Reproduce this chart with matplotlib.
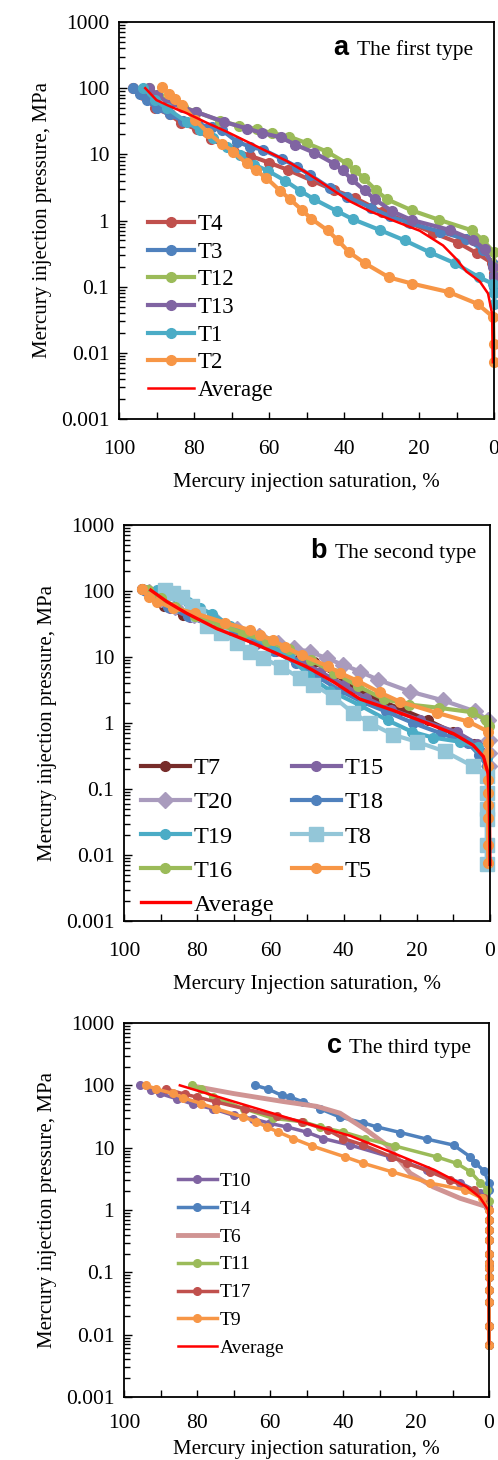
import numpy as np
import matplotlib
matplotlib.use("Agg")
import matplotlib.pyplot as plt
from matplotlib.ticker import FixedLocator, FuncFormatter, LogLocator, NullFormatter

plt.rcParams['font.family'] = ['Liberation Serif', 'DejaVu Serif']

# ---------------- data: panel a (first type) ----------------
a_names = ["T4", "T3", "T12", "T13", "T1", "T2"]
a_sat = [
    [96.4, 93.5, 90.4, 86.5, 83.5, 79.3, 75.5, 69.5, 65.0, 60.0, 54.9, 48.5, 42.8, 37.1, 30.0, 23.0, 16.2, 9.5, 4.6, 0.6, 0.0],
    [96.4, 94.5, 92.5, 90.0, 86.5, 82.9, 79.0, 75.3, 72.6, 68.6, 65.0, 61.5, 56.5, 52.6, 49.1, 43.8, 39.3, 32.7, 27.8, 22.5, 14.5, 7.4, 2.9, 0.3, 0.0, 0.0],
    [92.0, 89.5, 86.5, 83.0, 79.5, 73.0, 68.0, 63.3, 59.3, 54.6, 50.0, 44.6, 39.3, 37.1, 34.8, 31.4, 28.6, 21.9, 14.8, 5.9, 2.9, 0.0, 0.0],
    [92.0, 89.9, 86.7, 83.1, 79.6, 72.0, 65.8, 61.8, 56.8, 53.0, 48.0, 42.6, 40.3, 38.0, 34.5, 31.8, 27.1, 22.0, 11.8, 5.6, 2.5, 0.2, 0.0],
    [93.5, 90.4, 87.3, 82.0, 78.4, 74.9, 71.3, 67.8, 64.0, 60.2, 55.7, 51.8, 48.0, 42.0, 37.7, 30.5, 23.8, 17.1, 10.5, 4.1, 0.3, 0.0, 0.0],
    [88.5, 86.7, 85.0, 83.3, 79.7, 76.2, 72.6, 69.5, 66.0, 63.5, 60.7, 57.1, 54.4, 51.1, 48.7, 44.4, 41.6, 38.6, 34.5, 28.0, 21.8, 12.1, 4.4, 0.3, 0.1, 0.1],
]
a_pres = [
    [100, 79, 50, 40, 30, 24, 17, 11.7, 9.5, 7.5, 5.8, 4.0, 2.9, 2.2, 1.36, 0.95, 0.65, 0.46, 0.32, 0.23, 0.16],
    [100, 82, 66, 50, 40, 32, 28, 26, 23.4, 15.6, 13, 11.7, 8.5, 6.5, 4.9, 3.1, 2.3, 1.55, 1.15, 0.92, 0.68, 0.52, 0.36, 0.22, 0.143, 0.1],
    [100, 80, 60, 52, 44, 32, 27, 24, 21, 18.5, 14.8, 11, 7.3, 5.8, 4.4, 2.85, 2.1, 1.42, 1.03, 0.71, 0.5, 0.33, 0.2],
    [100, 79, 59, 52, 44, 31, 24.5, 21, 18, 14, 10.6, 7.2, 5.7, 4.2, 2.85, 2.1, 1.37, 1.02, 0.72, 0.51, 0.37, 0.2, 0.14],
    [100, 66, 50, 31, 23, 17.5, 13, 9.8, 7.0, 5.6, 4.0, 2.84, 2.1, 1.4, 1.05, 0.72, 0.50, 0.33, 0.227, 0.14, 0.11, 0.08, 0.055],
    [103, 82, 68, 56, 33, 21, 14.4, 11, 7.3, 5.7, 4.4, 2.84, 2.1, 1.42, 1.06, 0.71, 0.50, 0.33, 0.227, 0.138, 0.111, 0.083, 0.055, 0.035, 0.0138, 0.0072],
]
a_avg_sat = [93.0, 90.0, 87.0, 84.6, 82.0, 76.6, 71.3, 66.0, 60.7, 55.4, 50.0, 43.8, 38.5, 33.1, 26.9, 19.8, 13.6, 10.0, 7.4, 3.8, 1.6, 0.5, 0.3]
a_avg_pres = [100, 66, 55, 48, 42, 30, 22, 15.7, 11.2, 8, 5.3, 3.1, 1.96, 1.38, 1.0, 0.70, 0.42, 0.26, 0.17, 0.12, 0.079, 0.039, 0.0072]
a_colors = ["#C0504D", "#4F81BD", "#9BBB59", "#8064A2", "#4BACC6", "#F79646"]

# ---------------- data: panel b (second type) ----------------
b_names = ["T7", "T15", "T20", "T18", "T19", "T8", "T16", "T5"]
b_sat = [
    [95.0, 92.5, 89.0, 84.0, 78.0, 71.0, 64.0, 58.0, 53.5, 48.0, 42.5, 37.0, 31.0, 24.0, 17.0, 10.0, 4.5, 1.0, 0.3],
    [94.0, 91.0, 87.5, 82.0, 76.0, 70.0, 64.0, 58.5, 52.0, 46.5, 40.0, 34.0, 27.0, 19.0, 9.1, 3.5, 0.5, 0.2],
    [93.3, 90.0, 86.0, 81.0, 75.0, 69.0, 63.0, 58.0, 53.5, 49.2, 44.5, 40.1, 35.5, 30.5, 21.9, 12.8, 4.1, 0.5, 0.2, 0.2, 0.2],
    [94.5, 91.5, 88.0, 82.5, 76.5, 70.5, 64.5, 59.0, 53.0, 47.0, 41.0, 35.0, 28.5, 21.0, 13.5, 6.0, 3.0, 0.8, 0.3],
    [91.0, 88.0, 85.6, 82.4, 79.2, 76.0, 71.0, 66.0, 60.5, 55.0, 49.5, 43.7, 35.5, 28.0, 21.4, 15.5, 8.2, 3.2, 0.8, 0.5],
    [88.8, 86.5, 84.2, 81.5, 79.7, 77.4, 73.5, 69.0, 65.5, 62.0, 57.0, 52.0, 48.3, 42.8, 37.3, 32.8, 26.4, 20.0, 12.3, 4.6, 0.9, 0.9, 0.9, 0.9, 0.9, 0.9],
    [93.5, 90.0, 86.0, 80.5, 74.0, 67.5, 61.0, 55.0, 49.0, 42.5, 36.0, 29.0, 22.0, 14.0, 5.0, 1.0, 0.3],
    [95.2, 93.3, 91.0, 86.5, 80.6, 72.4, 65.6, 62.8, 59.4, 56.0, 51.5, 44.2, 40.9, 36.4, 30.1, 24.6, 14.6, 5.9, 0.5, 0.5, 0.5, 0.5, 0.5, 0.5, 0.5, 0.5, 0.5, 0.5],
]
b_pres = [
    [107, 85, 60, 43, 34, 25, 19, 14, 12, 8.5, 5.5, 3.4, 2.3, 1.6, 1.1, 0.72, 0.48, 0.3, 0.2],
    [100, 78, 55, 40, 30, 22, 16, 12.5, 8.8, 6.0, 3.8, 2.4, 1.6, 1.1, 0.73, 0.48, 0.34, 0.21],
    [98, 75, 58, 44, 35, 27, 21, 16.5, 13.5, 12, 9.5, 7.6, 6.0, 4.5, 3.0, 2.2, 1.5, 1.11, 0.55, 0.35, 0.22],
    [102, 80, 58, 42, 31, 23, 17, 12.5, 8.0, 5.0, 3.1, 2.1, 1.5, 1.0, 0.7, 0.5, 0.33, 0.22, 0.15],
    [103, 90, 80, 68, 55, 45, 30, 22, 15, 10.5, 5.2, 3.1, 1.85, 1.1, 0.74, 0.6, 0.52, 0.44, 0.29, 0.2],
    [105, 92, 81, 60, 45, 29, 23, 16.5, 12, 9.5, 7.1, 4.8, 3.8, 2.5, 1.4, 1.0, 0.66, 0.52, 0.37, 0.22, 0.155, 0.086, 0.05, 0.035, 0.014, 0.0072],
    [103, 78, 58, 42, 31, 23, 17.5, 13, 9.0, 5.8, 3.6, 2.3, 1.9, 1.7, 1.46, 1.1, 0.9],
    [107, 82, 69, 55, 46, 33, 25.6, 21.5, 18, 14.2, 10.7, 7.2, 5.7, 4.4, 2.9, 2.1, 1.43, 1.05, 0.74, 0.49, 0.35, 0.22, 0.138, 0.086, 0.057, 0.036, 0.014, 0.0075],
]
b_avg_sat = [92.7, 88.3, 82.9, 74.7, 65.6, 58.3, 50.1, 42.8, 35.5, 26.4, 17.3, 10.0, 4.6, 1.8, 0.5, 0.2, 0.0]
b_avg_pres = [103, 69, 46, 27, 17, 11.3, 7.1, 4.2, 2.3, 1.55, 1.0, 0.69, 0.46, 0.31, 0.17, 0.068, 0.0072]
b_colors = ["#772C2A", "#8064A2", "#A99BBD", "#4F81BD", "#4BACC6", "#93C6D8", "#9BBB59", "#F79646"]
b_markers = ["o", "o", "D", "o", "o", "s", "o", "o"]

# ---------------- data: panel c (third type) ----------------
c_names = ["T10", "T14", "T6", "T11", "T17", "T9"]
c_tail = [0.69, 0.48, 0.33, 0.2, 0.14, 0.116, 0.083, 0.053, 0.034, 0.0138, 0.0069]
c_sat = [
    [95.7, 92.5, 90.2, 85.6, 81.1, 75.6, 70.0, 64.6, 60.0, 55.4, 50.0, 45.4, 38.0, 27.0, 17.0, 7.9, 2.4, 0.2],
    [64.1, 60.5, 56.8, 54.5, 50.9, 46.3, 40.8, 34.4, 30.7, 24.3, 17.0, 9.7, 5.1, 3.8, 1.3, 0.1, 0.0],
    [80.1, 70.1, 56.4, 47.2, 40.8, 33.5, 28.0, 21.6, 15.3, 7.9, 0.6, 0.0],
    [81.5, 78.8, 75.6, 67.0, 59.1, 50.9, 46.3, 39.9, 33.9, 25.7, 14.3, 8.8, 5.1, 2.4, 0.5, 0.0],
    [88.4, 83.3, 80.1, 74.7, 66.9, 58.2, 51.3, 44.0, 39.9, 34.4, 26.6, 22.5, 16.1, 10.6, 4.2, 1.5, 0.0],
    [93.9, 91.1, 86.5, 83.8, 78.8, 74.7, 67.3, 63.7, 60.9, 57.7, 53.6, 48.6, 39.4, 34.4, 26.6, 16.1, 6.5, 2.0, 0.0],
]
c_pres = [
    [100, 83, 74, 61, 50, 42, 33, 29, 24.5, 21.5, 17.8, 14, 11, 7.1, 4.4, 2.75, 1.85, 1.1],
    [100, 87, 69, 65, 54, 42, 31, 25, 21.5, 17.5, 13.7, 11, 7.1, 5.7, 4.2, 2.75, 2.1],
    [95, 74, 55, 46, 35.7, 19, 11, 3.9, 2.35, 1.54, 1.13, 1.0],
    [100, 87, 65, 42, 29.5, 26, 21.5, 17.8, 14, 10.6, 7.1, 5.6, 4.1, 2.75, 2.1, 1.4],
    [87, 72, 65, 54, 42, 32, 26, 19, 14, 11, 7.1, 5.6, 4.1, 3.0, 2.1, 1.54, 1.0],
    [100, 87, 74, 63, 51, 42, 31, 26, 21.5, 17.8, 14, 10.7, 7.1, 5.6, 4.1, 2.7, 2.1, 1.55, 1.0],
]
c_avg_sat = [84.7, 70.0, 51.8, 38.0, 27.1, 15.0, 6.1, 2.5, 0.2, 0.0]
c_avg_pres = [100, 55, 26.3, 15.5, 8.6, 4.4, 2.35, 1.6, 1.0, 0.0072]
c_colors = ["#8064A2", "#4F81BD", "#D09493", "#9BBB59", "#C0504D", "#F79646"]

y_ticks = [0.001, 0.01, 0.1, 1, 10, 100, 1000]
y_labels = ["0.001", "0.01", "0.1", "1", "10", "100", "1000"]
x_ticks = [100, 80, 60, 40, 20, 0]


def style_axes(ax, xlabel, pad_tick, pad_label):
    ax.set_yscale('log')
    ax.set_ylim(0.001, 1000)
    ax.set_xlim(100, 0)
    ax.yaxis.set_major_locator(FixedLocator(y_ticks))
    ax.yaxis.set_major_formatter(FuncFormatter(lambda v, p: y_labels[y_ticks.index(v)] if v in y_ticks else ""))
    ax.yaxis.set_minor_locator(LogLocator(base=10, subs=np.arange(2, 10)))
    ax.yaxis.set_minor_formatter(NullFormatter())
    ax.xaxis.set_major_locator(FixedLocator(x_ticks))
    ax.xaxis.set_minor_locator(FixedLocator([90, 70, 50, 30, 10]))
    ax.tick_params(axis='both', which='both', direction='in', labelsize=15.5, width=1.0)
    ax.tick_params(axis='y', which='major', length=6, pad=7)
    ax.tick_params(axis='y', which='minor', length=4)
    ax.tick_params(axis='x', which='both', length=5, pad=pad_tick)
    for s in ax.spines.values():
        s.set_linewidth(1.3)
    ax.set_ylabel("Mercury injection pressure, MPa", fontsize=15, labelpad=6)
    ax.set_xlabel(xlabel, fontsize=15, labelpad=pad_label)


def panel_title(ax, letter, title, xl, xt, yb, size):
    ax.text(xl, yb, letter, transform=ax.transAxes, ha='right', va='baseline',
            fontsize=size + 4, fontweight='bold', family='Liberation Sans')
    ax.text(xt, yb, title, transform=ax.transAxes, ha='left', va='baseline', fontsize=size)


fig = plt.figure(figsize=(4.98, 14.6), dpi=100)

# ---- panel a ----
ax = fig.add_axes([119 / 498, 1 - 419 / 1460, 375 / 498, 397 / 1460])
for name, s, p, c in zip(a_names, a_sat, a_pres, a_colors):
    ax.plot(s, p, '-o', color=c, lw=3, ms=7, label=name, clip_on=False)
ax.plot(a_avg_sat, a_avg_pres, '-', color='#FF0000', lw=1.8, label="Average", clip_on=False)
style_axes(ax, "Mercury injection saturation, %", 15, 10)
panel_title(ax, "a", "The first type", 0.611, 0.635, 0.917, 15.5)
ax.legend(loc='lower left', bbox_to_anchor=(0.035, 0.005), frameon=False, fontsize=16.5,
          handlelength=2.0, handletextpad=0.15, labelspacing=0.29, numpoints=1,
          borderpad=0.2)

# ---- panel b ----
ax = fig.add_axes([124 / 498, 1 - 921 / 1460, 366 / 498, 396 / 1460])
lines = []
for name, s, p, c, m in zip(b_names, b_sat, b_pres, b_colors, b_markers):
    ms = 10 if m == 's' else (8 if m == 'D' else 7)
    ln, = ax.plot(s, p, '-', marker=m, color=c, lw=3, ms=ms, label=name, clip_on=False)
    lines.append(ln)
avg, = ax.plot(b_avg_sat, b_avg_pres, '-', color='#FF0000', lw=2.4, label="Average", clip_on=False)
style_axes(ax, "Mercury Injection saturation, %", 15, 10)
panel_title(ax, "b", "The second type", 0.555, 0.577, 0.917, 15.5)
# legend is filled row by row in the original
order = [0, 2, 4, 6, 1, 3, 5, 7]
handles = [lines[i] for i in order[:4]] + [avg] + [lines[i] for i in order[4:]]
ax.legend(handles=handles, labels=[h.get_label() for h in handles], ncol=2,
          loc='lower left', bbox_to_anchor=(0.0, -0.03), frameon=False, fontsize=17.5,
          handlelength=2.0, handletextpad=0.15, labelspacing=0.5, columnspacing=0.75,
          numpoints=1, borderpad=0.2)

# ---- panel c ----
ax = fig.add_axes([124 / 498, 1 - 1397 / 1460, 365 / 498, 374 / 1460])
for name, s, p, c in zip(c_names, c_sat, c_pres, c_colors):
    if name == "T6":
        ax.plot(s, p, '-', color=c, lw=3.5, label=name, clip_on=False)
    else:
        ax.plot(s + [0.0] * len(c_tail), p + c_tail, '-o', color=c, lw=2.5, ms=5.5,
                label=name, clip_on=False)
ax.plot(c_avg_sat, c_avg_pres, '-', color='#FF0000', lw=1.8, label="Average", clip_on=False)
style_axes(ax, "Mercury injection saturation, %", 12, 5)
panel_title(ax, "c", "The third type", 0.597, 0.616, 0.92, 15.5)
ax.legend(loc='lower left', bbox_to_anchor=(0.11, 0.07), frameon=False, fontsize=14,
          handlelength=2.0, handletextpad=0.15, labelspacing=0.53, numpoints=1,
          borderpad=0.2)

fig.savefig("out.png", dpi=100)
